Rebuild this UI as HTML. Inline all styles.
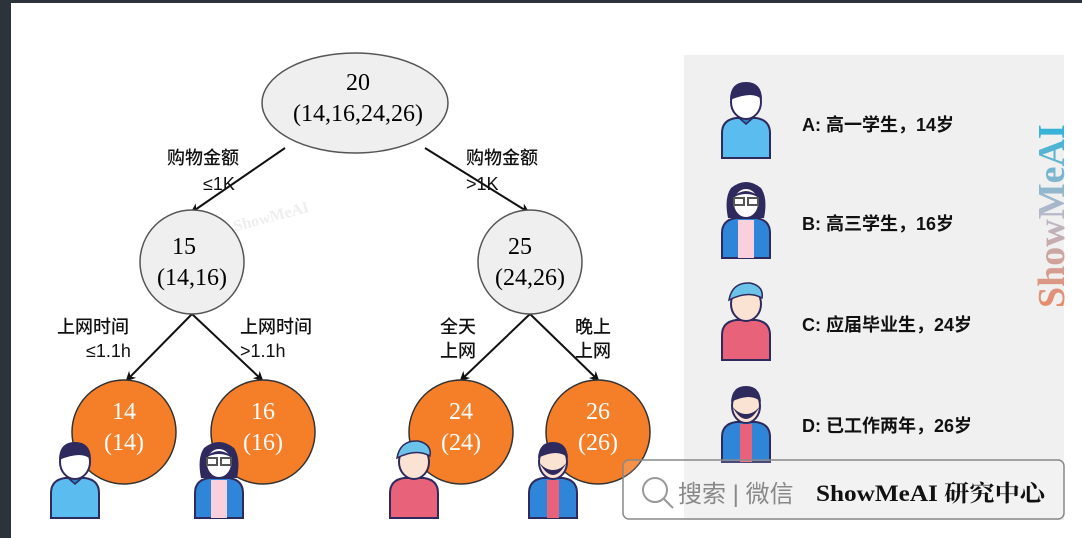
<!DOCTYPE html>
<html><head><meta charset="utf-8"><style>
html,body{margin:0;padding:0;background:#fff;}
body{width:1082px;height:538px;overflow:hidden;position:relative;font-family:"Liberation Sans","Noto Sans CJK SC",sans-serif;}
</style></head><body>
<svg width="1082" height="538" viewBox="0 0 1082 538" xmlns="http://www.w3.org/2000/svg" style="position:absolute;left:0;top:0">
<defs>
<linearGradient id="wm" x1="0" y1="0" x2="1" y2="0">
<stop offset="0" stop-color="#e88a6a"/><stop offset="0.5" stop-color="#b8b8c8"/><stop offset="1" stop-color="#2bb3d8"/></linearGradient>
<marker id="ar" markerWidth="10" markerHeight="10" refX="8" refY="5" orient="auto" markerUnits="userSpaceOnUse">
<path d="M0,0 L10,5 L0,10 L3,5 z" fill="#111"/></marker>
<g id="boy">
<path d="M-24,70 L-24,45 Q-24,32 -10,30 L10,30 Q24,32 24,45 L24,70 Z" fill="#5bbcef" stroke="#2e2a5e" stroke-width="2"/>
<path d="M-8,29 L0,36 L8,29" fill="#2a80c9" stroke="#2e2a5e" stroke-width="1.5"/>
<ellipse cx="0" cy="14" rx="15" ry="17" fill="#fff" stroke="#2e2a5e" stroke-width="2"/>
<path d="M-16,12 Q-16,-6 0,-6 Q16,-6 16,12 Q8,2 -16,12 Z" fill="#2e2a5e"/>
</g>
<g id="girl">
<path d="M-18,30 Q-22,10 -15,0 Q0,-12 15,0 Q22,10 18,30 Z" fill="#2e2a5e"/>
<path d="M-24,70 L-24,45 Q-24,32 -10,30 L10,30 Q24,32 24,45 L24,70 Z" fill="#2f86d8" stroke="#2e2a5e" stroke-width="2"/>
<rect x="-8" y="32" width="16" height="38" fill="#f9d0dc"/>
<ellipse cx="0" cy="15" rx="13" ry="15" fill="#fff" stroke="#2e2a5e" stroke-width="2"/>
<path d="M-14,10 Q0,-4 14,10 Q0,2 -14,10Z" fill="#2e2a5e"/>
<rect x="-12" y="10" width="10" height="7" fill="none" stroke="#555" stroke-width="2"/>
<rect x="2" y="10" width="10" height="7" fill="none" stroke="#555" stroke-width="2"/>
</g>
<g id="grad">
<path d="M-24,70 L-24,45 Q-24,32 -10,30 L10,30 Q24,32 24,45 L24,70 Z" fill="#e8627a" stroke="#2e2a5e" stroke-width="2"/>
<ellipse cx="0" cy="14" rx="15" ry="17" fill="#fbe3d3" stroke="#2e2a5e" stroke-width="2"/>
<path d="M-17,10 Q-14,-8 4,-7 Q18,-4 16,8 Q2,0 -17,10 Z" fill="#6cc3ea" stroke="#2e2a5e" stroke-width="1.5"/>
</g>
<g id="man">
<path d="M-24,70 L-24,45 Q-24,32 -10,30 L10,30 Q24,32 24,45 L24,70 Z" fill="#2f86d8" stroke="#2e2a5e" stroke-width="2"/>
<rect x="-6" y="32" width="12" height="38" fill="#e8627a"/>
<ellipse cx="0" cy="14" rx="14" ry="17" fill="#fbe3d3" stroke="#2e2a5e" stroke-width="2"/>
<path d="M-14,14 Q0,40 14,14 Q8,22 0,22 Q-8,22 -14,14Z" fill="#2e2a5e"/>
<path d="M-15,10 Q-14,-6 0,-6 Q14,-6 15,10 Q5,0 -15,10 Z" fill="#2e2a5e"/>
</g>
</defs>
<rect x="0" y="0" width="11" height="538" fill="#2d333b"/>
<rect x="11" y="0" width="1071" height="3" fill="#2d333b"/>
<rect x="684" y="55" width="380" height="465" fill="#f0f0f0"/>
<text x="0" y="0" transform="translate(1064,308) rotate(-90)" font-family="Liberation Serif,serif" font-weight="bold" font-size="38" fill="url(#wm)">ShowMeAI</text>
<text x="232" y="222" transform="rotate(-15 270 215)" font-family="Liberation Serif,serif" font-weight="bold" font-size="16" fill="#eee">ShowMeAI</text>
<g stroke="#111" stroke-width="2" fill="none" marker-end="url(#ar)">
<line x1="285" y1="148" x2="192" y2="212"/>
<line x1="425" y1="148" x2="528" y2="212"/>
<line x1="192" y1="314" x2="127" y2="380"/>
<line x1="192" y1="314" x2="262" y2="380"/>
<line x1="530" y1="314" x2="461" y2="380"/>
<line x1="530" y1="314" x2="598" y2="380"/>
</g>
<g font-family="Liberation Serif,serif" font-size="24" text-anchor="middle">
<ellipse cx="355" cy="103" rx="93" ry="50" fill="#efefef" stroke="#555" stroke-width="1.5"/>
<text x="358" y="90">20</text><text x="358" y="121">(14,16,24,26)</text>
<circle cx="192" cy="262" r="52" fill="#efefef" stroke="#555" stroke-width="1.5"/>
<text x="184" y="254">15</text><text x="192" y="285">(14,16)</text>
<circle cx="530" cy="262" r="52" fill="#efefef" stroke="#555" stroke-width="1.5"/>
<text x="520" y="254">25</text><text x="530" y="285">(24,26)</text>
<g fill="#fff">
<circle cx="124" cy="432" r="52" fill="#f57f29" stroke="#333" stroke-width="1.5"/>
<text x="124" y="419">14</text><text x="124" y="450">(14)</text>
<circle cx="263" cy="432" r="52" fill="#f57f29" stroke="#333" stroke-width="1.5"/>
<text x="263" y="419">16</text><text x="263" y="450">(16)</text>
<circle cx="461" cy="432" r="52" fill="#f57f29" stroke="#333" stroke-width="1.5"/>
<text x="461" y="419">24</text><text x="461" y="450">(24)</text>
<circle cx="598" cy="432" r="52" fill="#f57f29" stroke="#333" stroke-width="1.5"/>
<text x="598" y="419">26</text><text x="598" y="450">(26)</text>
</g>
</g>
<g font-size="18" fill="#111" font-weight="500">
<text x="167" y="164">购物金额</text><text x="203" y="190">≤1K</text>
<text x="466" y="164">购物金额</text><text x="466" y="190">&gt;1K</text>
<text x="57" y="333">上网时间</text><text x="86" y="357">≤1.1h</text>
<text x="240" y="333">上网时间</text><text x="240" y="357">&gt;1.1h</text>
<text x="440" y="333">全天</text><text x="440" y="357">上网</text>
<text x="575" y="333">晚上</text><text x="575" y="357">上网</text>
</g>
<use href="#boy" x="75" y="448"/>
<use href="#girl" x="219" y="448"/>
<use href="#grad" x="414" y="448"/>
<use href="#man" x="553" y="448"/>
<use href="#boy" x="746" y="88"/>
<use href="#girl" x="746" y="188"/>
<use href="#grad" x="746" y="290"/>
<use href="#man" x="746" y="392"/>
<g font-size="18" fill="#111" font-weight="bold">
<text x="802" y="131">A: 高一学生，14岁</text>
<text x="802" y="230">B: 高三学生，16岁</text>
<text x="802" y="331">C: 应届毕业生，24岁</text>
<text x="802" y="432">D: 已工作两年，26岁</text>
</g>
<rect x="623" y="460" width="441" height="59" rx="6" fill="rgba(255,255,255,0.15)" stroke="#888" stroke-width="1.5"/>
<circle cx="655" cy="490" r="12" fill="none" stroke="#999" stroke-width="2"/>
<line x1="664" y1="499" x2="673" y2="508" stroke="#999" stroke-width="2"/>
<text x="678" y="502" font-size="24" fill="#888">搜索 | 微信</text>
<text x="816" y="501" font-size="23" font-weight="bold" fill="#111" font-family="Liberation Serif,'Noto Serif CJK SC',serif" textLength="229" lengthAdjust="spacingAndGlyphs">ShowMeAI 研究中心</text>
</svg>
</body></html>
